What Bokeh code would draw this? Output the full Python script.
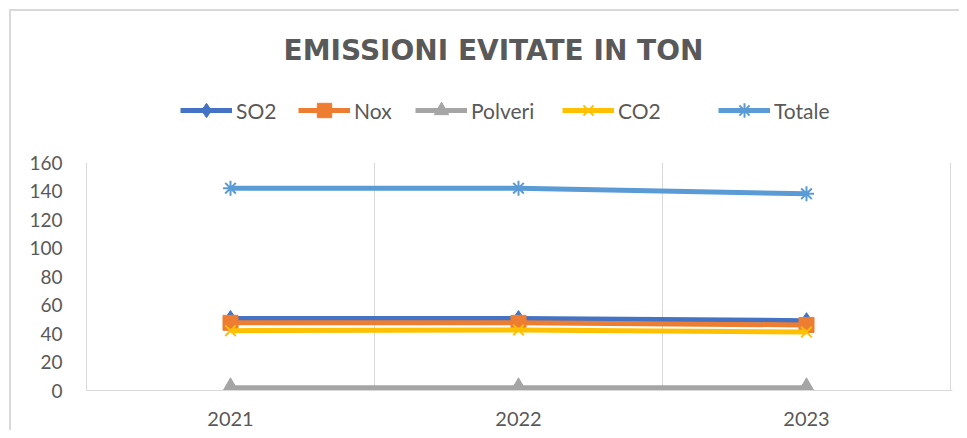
from bokeh.plotting import figure
from bokeh.models import Range1d, FixedTicker, Legend, LegendItem, Label
from bokeh.embed import file_html
from bokeh.resources import INLINE

# ---- data ----
years = ["2021", "2022", "2023"]
so2 = [50.5, 50.5, 49.0]
nox = [47.5, 47.5, 46.0]
polveri = [2.0, 2.0, 2.0]
co2 = [42.0, 42.5, 41.0]
totale = [142.0, 142.0, 138.0]
y_ticks = [0, 20, 40, 60, 80, 100, 120, 140, 160]
title_text = "EMISSIONI EVITATE IN TON"

series_names = ["SO2", "Nox", "Polveri", "CO2", "Totale"]
series_values = [so2, nox, polveri, co2, totale]
series_colors = ["#4472C4", "#ED7D31", "#A5A5A5", "#FFC000", "#5B9BD5"]
series_markers = ["diamond", "square", "triangle", "x", "asterisk"]
series_sizes = [16, 15, 17, 15, 15]

# ---- layout constants (pixels) ----
W, H = 959, 430
FR_LEFT, FR_RIGHT, FR_TOP, FR_BOTTOM = 86, 952, 12, 390
AXIS_TOP_PX = 162          # pixel where the 160 tick sits
PX_PER_CAT = 288
legend_x = [180, 298, 415, 562, 718]
legend_center_y = 110

n = len(years)
xpos = [i + 0.5 for i in range(n)]
ymax = y_ticks[-1]
y_end = ymax * (FR_BOTTOM - FR_TOP) / (FR_BOTTOM - AXIS_TOP_PX)
x_end = (FR_RIGHT - FR_LEFT) / PX_PER_CAT

p = figure(width=W, height=H, output_backend="svg", toolbar_location=None,
           x_range=Range1d(0, x_end), y_range=Range1d(0, y_end),
           min_border_left=FR_LEFT, min_border_right=W - FR_RIGHT,
           min_border_top=FR_TOP, min_border_bottom=H - FR_BOTTOM, title=None)
p.styles = {"background": "linear-gradient(#D9D9D9,#D9D9D9) 9px 9px / 2px 100% no-repeat, "
                          "linear-gradient(#D9D9D9,#D9D9D9) 9px 9px / 100% 2px no-repeat, #FFFFFF"}
p.outline_line_color = None
p.background_fill_color = None
p.border_fill_color = None

GRAY = "#595959"
GRID = "#D9D9D9"
FONT = "Lato"

# grids: vertical lines at category boundaries, limited to the value axis extent
p.xgrid.grid_line_color = None
p.ygrid.grid_line_color = None
bounds_x = [i + 1 for i in range(n)]
p.segment(x0=bounds_x, y0=[0] * n, x1=bounds_x, y1=[ymax] * n,
          line_color=GRID, line_width=1)

# axes
p.xaxis.ticker = FixedTicker(ticks=xpos)
p.xaxis.major_label_overrides = {xp: y for xp, y in zip(xpos, years)}
p.xaxis.axis_line_color = GRID
p.xaxis.major_tick_line_color = None
p.xaxis.minor_tick_line_color = None
p.xaxis.major_label_text_font = FONT
p.xaxis.major_label_text_font_size = "20px"
p.xaxis.major_label_text_color = GRAY
p.xaxis.major_label_standoff = 15

p.yaxis.ticker = FixedTicker(ticks=y_ticks)
p.yaxis.bounds = (0, ymax)
p.yaxis.axis_line_color = GRID
p.yaxis.major_tick_line_color = None
p.yaxis.minor_tick_line_color = None
p.yaxis.major_label_text_font = FONT
p.yaxis.major_label_text_font_size = "19px"
p.yaxis.major_label_text_color = GRAY
p.yaxis.major_label_standoff = 18

LEG_H = 36
for name, vals, col, mk, sz, lx in zip(series_names, series_values, series_colors,
                                       series_markers, series_sizes, legend_x):
    lr = p.line(xpos, vals, line_color=col, line_width=5)
    lw = 2 if mk in ("x", "asterisk") else 1
    mr = p.scatter(xpos, vals, marker=mk, size=sz, fill_color=col,
                   line_color=col, line_width=lw)
    leg = Legend(items=[LegendItem(label=name, renderers=[lr, mr])],
                 orientation="horizontal",
                 location=(lx - FR_LEFT, FR_BOTTOM - legend_center_y - LEG_H / 2),
                 border_line_color=None, background_fill_alpha=0,
                 padding=0, margin=0, spacing=0, label_standoff=4,
                 glyph_width=52, glyph_height=LEG_H, label_height=LEG_H,
                 label_text_font=FONT, label_text_font_size="21px",
                 label_text_color=GRAY)
    p.add_layout(leg)

title_cx, title_cy = 493, 50
title = Label(x=(title_cx - FR_LEFT) / PX_PER_CAT,
              y=(FR_BOTTOM - title_cy) * ymax / (FR_BOTTOM - AXIS_TOP_PX),
              text=title_text, text_align="center", text_baseline="middle",
              text_font="DejaVu Sans", text_font_style="bold",
              text_font_size="28px", text_color=GRAY)
p.add_layout(title)

open("out.html", "w").write(file_html(p, INLINE))
